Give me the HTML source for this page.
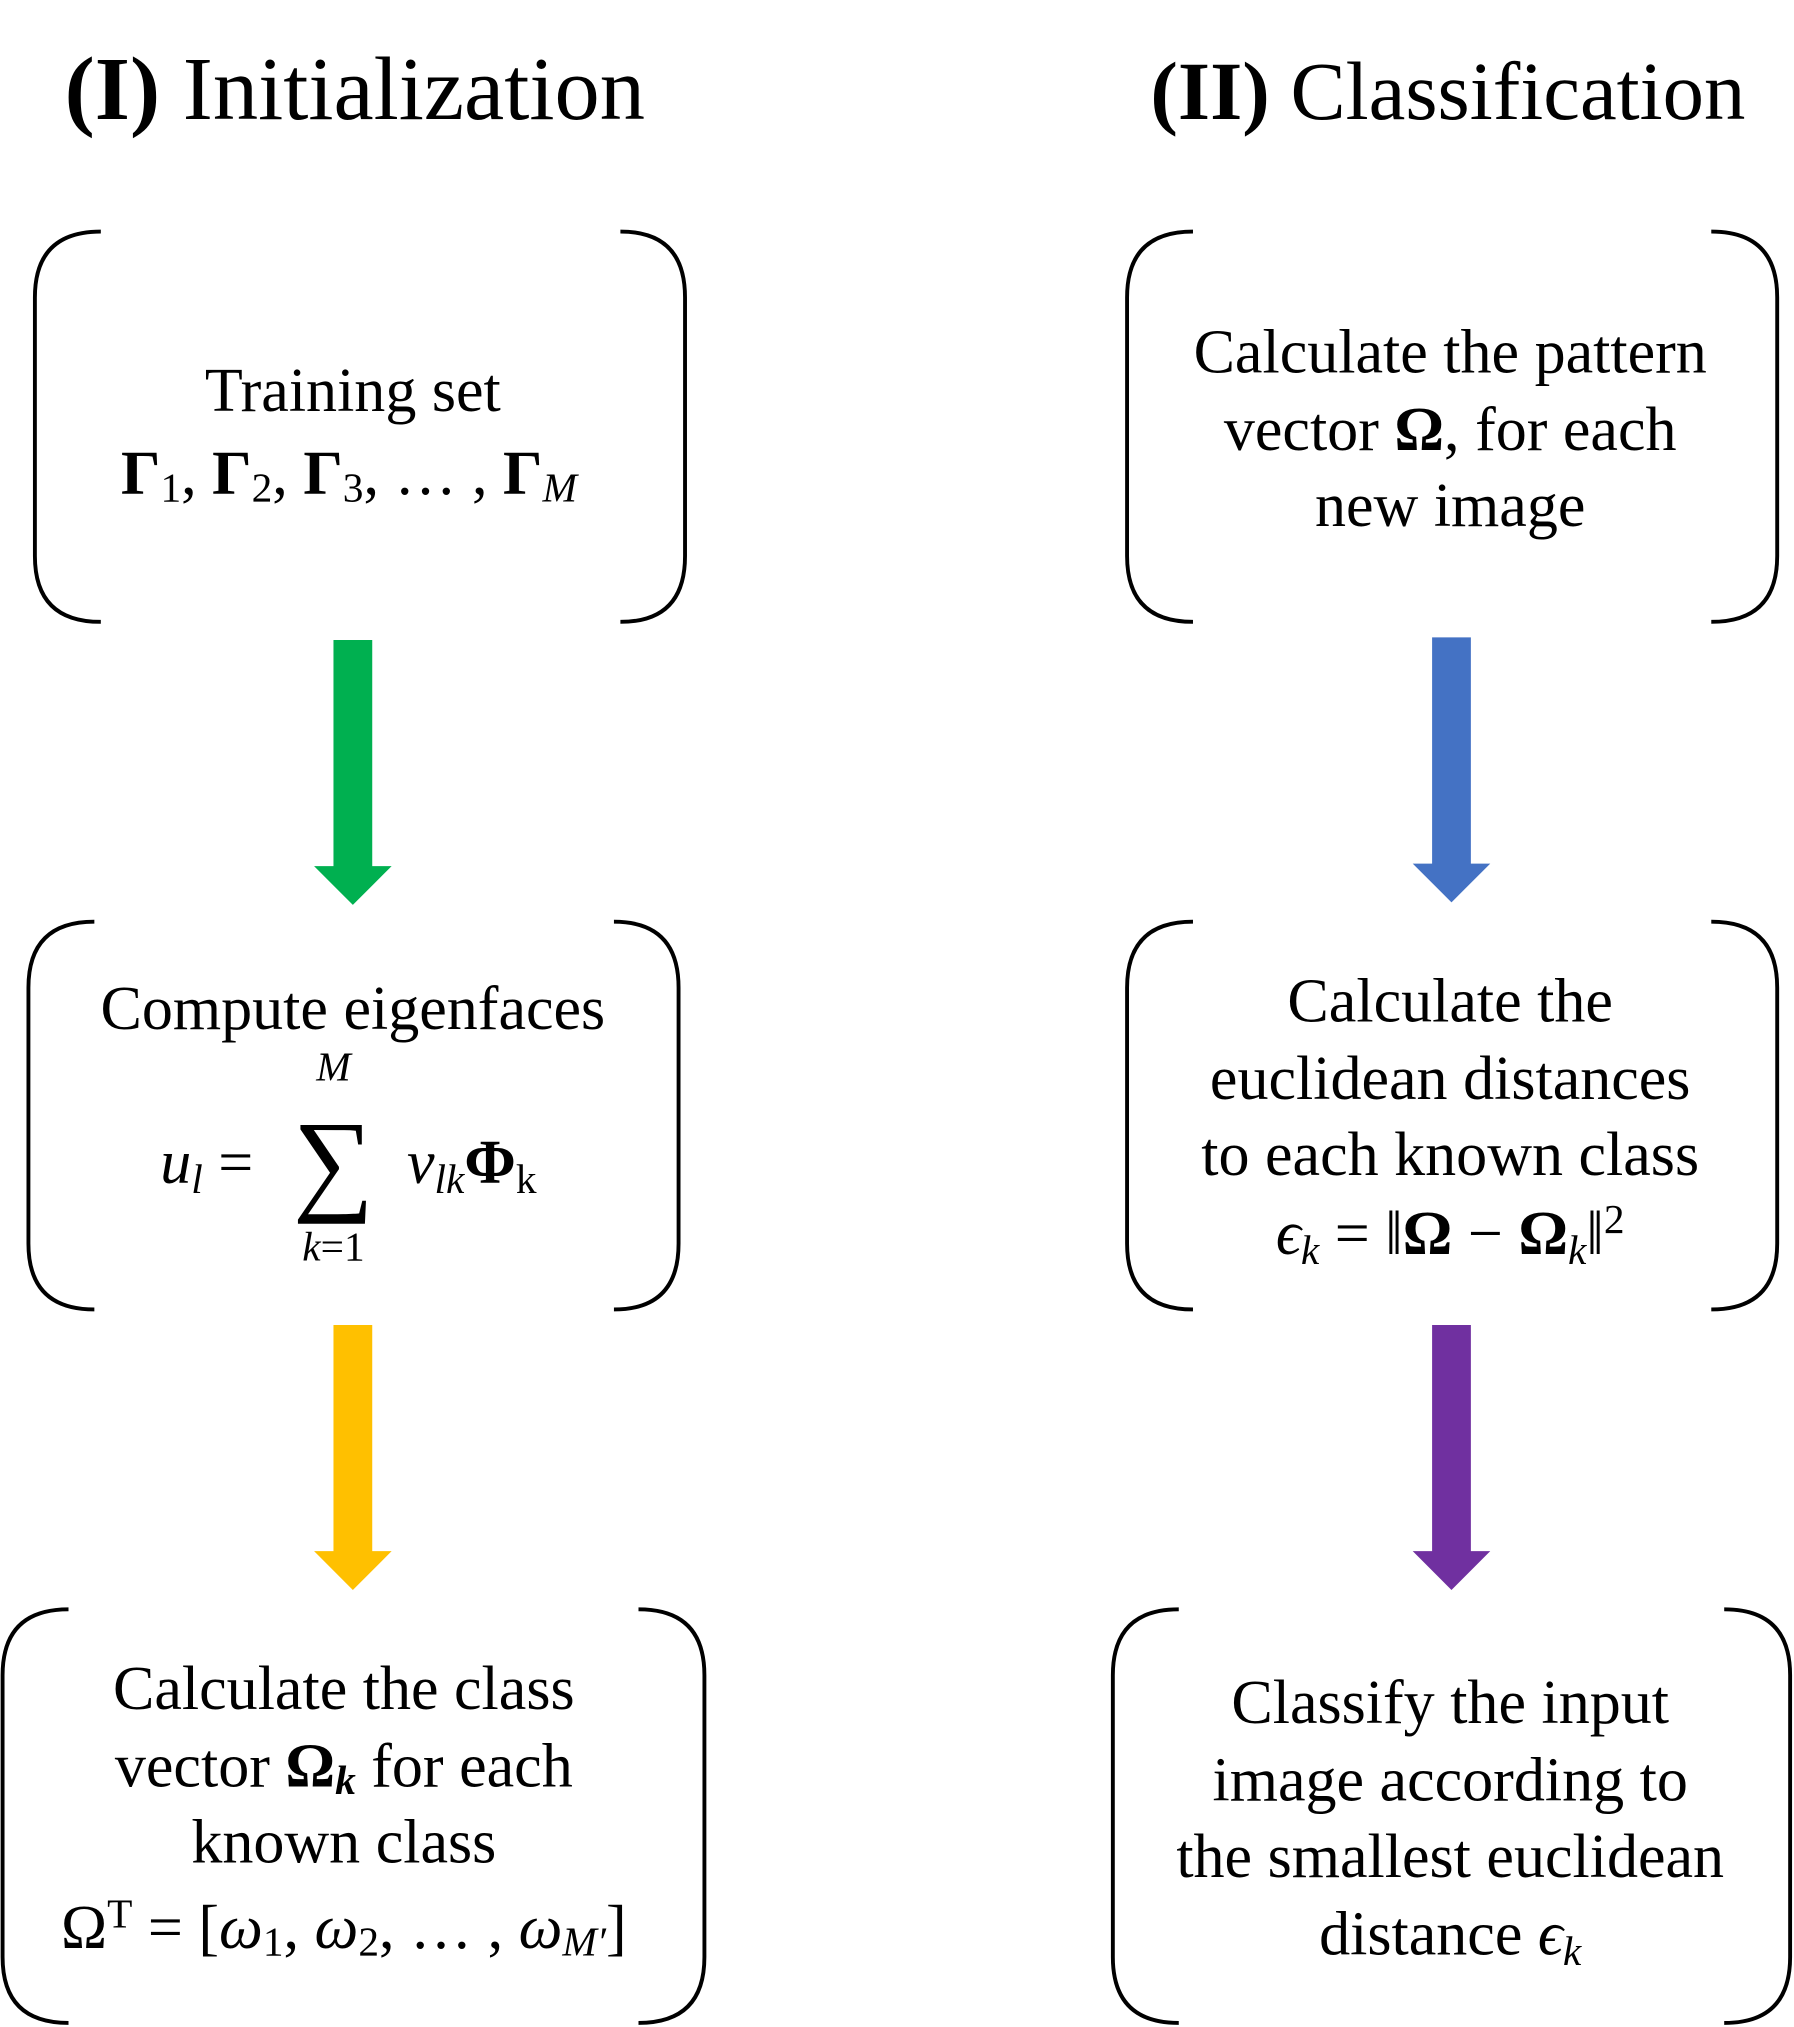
<!DOCTYPE html>
<html><head><meta charset="utf-8"><style>
html,body{margin:0;padding:0;background:#fff}
svg{display:block}
text{font-family:"Liberation Serif","DejaVu Serif",serif;fill:#000}
</style></head><body>
<svg width="1794" height="2027" viewBox="0 0 1388 1568">
<g>
<text x="50" y="92" font-size="70"><tspan font-weight="bold">(I)</tspan> Initialization</text>
<text x="890" y="92" font-size="64"><tspan font-weight="bold">(II)</tspan> Classification</text>
</g>
<g fill="none" stroke="#000" stroke-width="3">
<path d="M78 179 Q27 179 27 230 L27 430 Q27 481 78 481 M480 179 Q530 179 530 230 L530 430 Q530 481 480 481"/>
<path d="M73 713 Q22 713 22 764 L22 962 Q22 1013 73 1013 M475 713 Q525 713 525 764 L525 962 Q525 1013 475 1013"/>
<path d="M53 1245 Q2 1245 2 1296 L2 1514 Q2 1565 53 1565 M494 1245 Q545 1245 545 1296 L545 1514 Q545 1565 494 1565"/>
<path d="M923 179 Q872 179 872 230 L872 430 Q872 481 923 481 M1324 179 Q1375 179 1375 230 L1375 430 Q1375 481 1324 481"/>
<path d="M923 713 Q872 713 872 764 L872 962 Q872 1013 923 1013 M1324 713 Q1375 713 1375 764 L1375 962 Q1375 1013 1324 1013"/>
<path d="M912 1245 Q861 1245 861 1296 L861 1514 Q861 1565 912 1565 M1334 1245 Q1385 1245 1385 1296 L1385 1514 Q1385 1565 1334 1565"/>
</g>
<g>
<path fill="#00b050" d="M258 495 H288 V670 H303 L273 700 L243 670 H258 Z"/>
<path fill="#ffc000" d="M258 1025 H288 V1200 H303 L273 1230 L243 1200 H258 Z"/>
<path fill="#4472c4" d="M1108 493 H1138 V668 H1153 L1123 698 L1093 668 H1108 Z"/>
<path fill="#7030a0" d="M1108 1025 H1138 V1200 H1153 L1123 1230 L1093 1200 H1108 Z"/>
</g>
<g font-size="48" text-anchor="middle">
<text x="273" y="318">Training set</text>
<text x="270" y="382"><tspan font-weight="bold">Γ</tspan><tspan font-size="32" dy="6">1</tspan><tspan dy="-6">, </tspan><tspan font-weight="bold">Γ</tspan><tspan font-size="32" dy="6">2</tspan><tspan dy="-6">, </tspan><tspan font-weight="bold">Γ</tspan><tspan font-size="32" dy="6">3</tspan><tspan dy="-6">, … , </tspan><tspan font-weight="bold">Γ</tspan><tspan font-size="32" font-style="italic" dy="6">M</tspan></text>

<text x="273" y="796">Compute eigenfaces</text>
<text x="258" y="836" font-size="32" font-style="italic">M</text>
<text x="258" y="928" font-size="88">∑</text>
<text x="258" y="975" font-size="32"><tspan font-style="italic">k</tspan>=1</text>
<text x="160" y="915"><tspan font-style="italic">u</tspan><tspan font-size="32" font-style="italic" dy="8">l</tspan><tspan dy="-8">  =</tspan></text>
<text x="365" y="915"><tspan font-style="italic">v</tspan><tspan font-size="32" font-style="italic" dy="8">lk</tspan><tspan font-weight="bold" dy="-8">Φ</tspan><tspan font-size="32" dy="8">k</tspan></text>

<text x="266" y="1322">Calculate the class</text>
<text x="266" y="1382">vector <tspan font-weight="bold">Ω</tspan><tspan font-weight="bold" font-style="italic" font-size="32" dy="6">k</tspan><tspan dy="-6"> for each</tspan></text>
<text x="266" y="1441">known class</text>
<text x="266" y="1507">Ω<tspan font-size="32" dy="-16">T</tspan><tspan dy="16"> = [</tspan><tspan font-style="italic">ω</tspan><tspan font-size="32" dy="6">1</tspan><tspan dy="-6">, </tspan><tspan font-style="italic">ω</tspan><tspan font-size="32" dy="6">2</tspan><tspan dy="-6">, … , </tspan><tspan font-style="italic">ω</tspan><tspan font-size="32" font-style="italic" dy="6">M′</tspan><tspan dy="-6">]</tspan></text>

<text x="1122" y="288">Calculate the pattern</text>
<text x="1122" y="348">vector <tspan font-weight="bold">Ω</tspan>, for each</text>
<text x="1122" y="407">new image</text>

<text x="1122" y="790">Calculate the</text>
<text x="1122" y="850">euclidean distances</text>
<text x="1122" y="909">to each known class</text>
<text x="1122" y="970"><tspan font-style="italic">ϵ</tspan><tspan font-size="32" font-style="italic" dy="8">k</tspan><tspan dy="-8"> = ‖</tspan><tspan font-weight="bold">Ω</tspan> − <tspan font-weight="bold">Ω</tspan><tspan font-size="32" font-style="italic" dy="8">k</tspan><tspan dy="-8">‖</tspan><tspan font-size="32" dy="-16">2</tspan></text>

<text x="1122" y="1333">Classify the input</text>
<text x="1122" y="1393">image according to</text>
<text x="1122" y="1452">the smallest euclidean</text>
<text x="1122" y="1512">distance <tspan font-style="italic">ϵ</tspan><tspan font-size="32" font-style="italic" dy="8">k</tspan></text>
</g>
</svg>
</body></html>
